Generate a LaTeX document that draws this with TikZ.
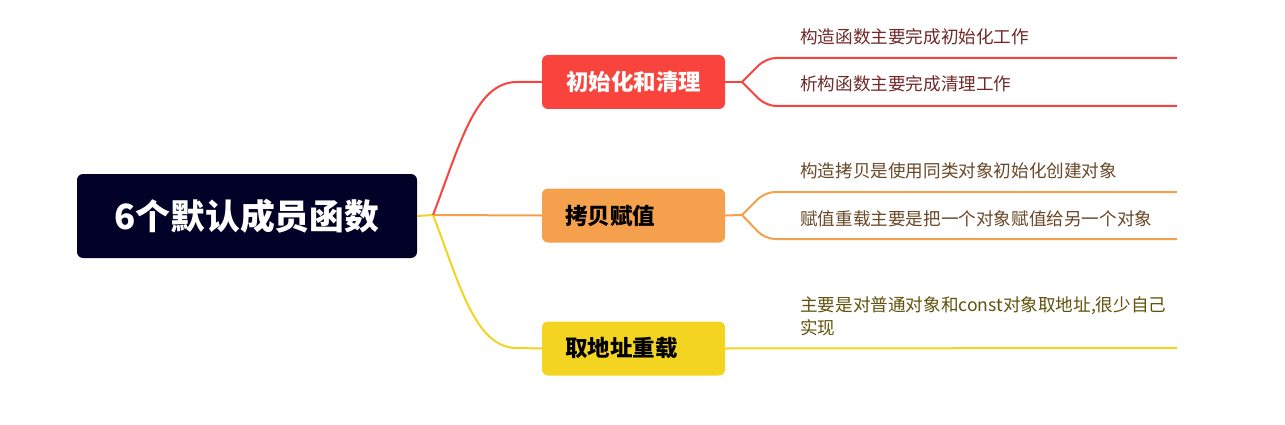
\documentclass[tikz,border=0pt]{standalone}
\usepackage{fontspec}
\newfontfamily\cjk{Noto Sans CJK SC}
\usetikzlibrary{positioning}
\definecolor{mmNavy}{RGB}{2,2,40}
\definecolor{mmRed}{RGB}{249,68,62}
\definecolor{mmOrange}{RGB}{245,160,77}
\definecolor{mmYellow}{RGB}{242,212,33}
\definecolor{mmRedText}{RGB}{112,40,40}
\definecolor{mmOrangeText}{RGB}{104,72,40}
\definecolor{mmYellowText}{RGB}{96,82,12}

\begin{document}
\begin{tikzpicture}[x=1pt, y=-1pt,
  rootbox/.style={fill=mmNavy, text=white, rounded corners=6pt, minimum width=340pt,
    minimum height=84pt, inner sep=0pt, font=\cjk\bfseries\fontsize{34.8}{40}\selectfont},
  topicbox/.style={rounded corners=6pt, minimum height=54pt, text width=137pt,
    inner xsep=23pt, inner ysep=0pt, font=\cjk\bfseries\fontsize{22.5}{26}\selectfont},
  leaf/.style={anchor=base west, inner sep=0pt, align=left,
    font=\cjk\fontsize{17.6}{23}\selectfont},
  branch/.style={line width=2pt}]
  \useasboundingbox (0,0) rectangle (1285,425);

  % Central topic
  \node[rootbox] (root) at (247,216) {6个默认成员函数};

  % Main topics
  \node[topicbox, fill=mmRed, text=white, align=center] (init) at (633.5,82) {初始化和清理};
  \node[topicbox, fill=mmOrange, text=black, align=left] (copy) at (633.5,215.5) {拷贝赋值};
  \node[topicbox, fill=mmYellow, text=black, align=left] (addr) at (633.5,348.5) {取地址重载};

  % Root to topics
  \coordinate (fork) at (433,215);
  \draw[branch, mmYellow] (root.east) -- (fork);
  \draw[branch, mmOrange] (fork) -- (copy.west);
  \draw[branch, mmRed] (fork) .. controls (460,145) and (475,82) .. (517,82) -- (init.west);
  \draw[branch, mmYellow] (fork) .. controls (460,285) and (475,348) .. (517,348) -- (addr.west);

  % Subtopics
  \node[leaf, text=mmRedText] (ctor) at (800,44) {构造函数主要完成初始化工作};
  \node[leaf, text=mmRedText] (dtor) at (800,91) {析构函数主要完成清理工作};
  \node[leaf, text=mmOrangeText] (cctor) at (800,178) {构造拷贝是使用同类对象初始化创建对象};
  \node[leaf, text=mmOrangeText] (assign) at (800,225) {赋值重载主要是把一个对象赋值给另一个对象};
  \node[leaf, text=mmYellowText] (addrop) at (800,334) {主要是对普通对象和const对象取地址,很少自己\\实现};

  % Topic to subtopics
  \coordinate (initfork) at (742,82);
  \coordinate (ctorEnd) at (1177,58);
  \coordinate (dtorEnd) at (1177,106);
  \draw[branch, mmRed] (init.east) -- (initfork);
  \draw[branch, mmRed, rounded corners=10pt] (initfork) -- (766,58) -- (ctorEnd);
  \draw[branch, mmRed, rounded corners=10pt] (initfork) -- (766,106) -- (dtorEnd);

  \coordinate (copyfork) at (742,215);
  \coordinate (cctorEnd) at (1177,192);
  \coordinate (assignEnd) at (1177,239);
  \draw[branch, mmOrange] (copy.east) -- (copyfork);
  \draw[branch, mmOrange, rounded corners=10pt] (copyfork) -- (765,192) -- (cctorEnd);
  \draw[branch, mmOrange, rounded corners=10pt] (copyfork) -- (765,239) -- (assignEnd);

  \coordinate (addrEnd) at (1177,348);
  \draw[branch, mmYellow] (addr.east) -- (addrEnd);
\end{tikzpicture}
\end{document}
